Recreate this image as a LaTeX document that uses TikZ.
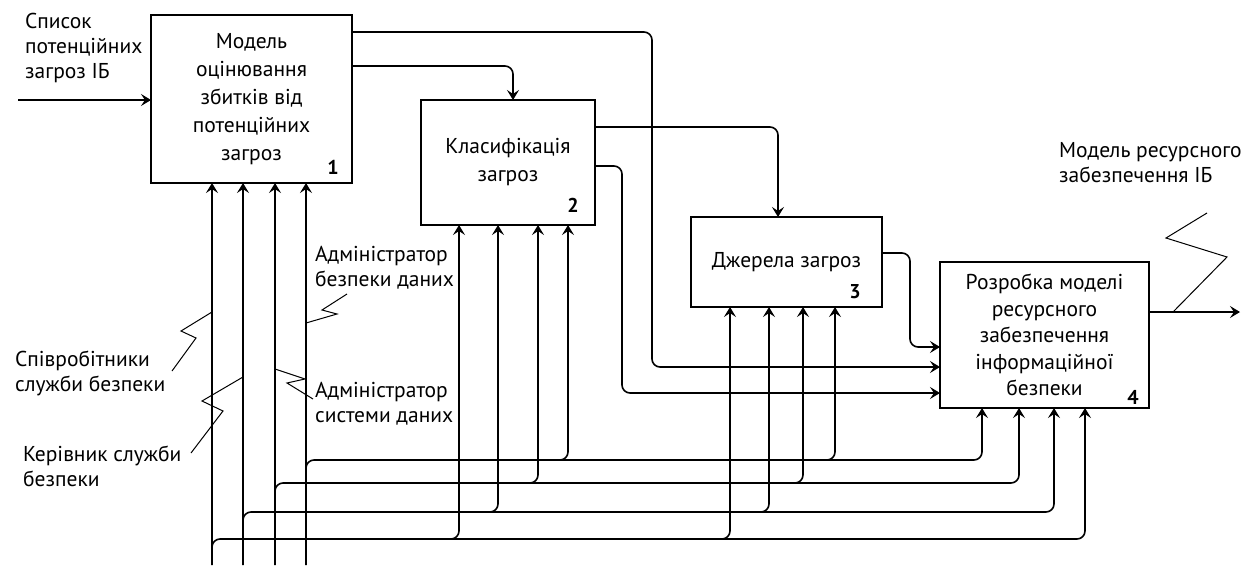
\documentclass[tikz,border=0pt]{standalone}
\usepackage{fontspec}
\setmainfont{PT Sans}
\usetikzlibrary{arrows.meta}

\begin{document}
\begin{tikzpicture}[x=1pt,y=-1pt,
		font=\fontsize{21.5}{25}\selectfont,
		block/.style={draw,line width=2.4pt,align=center,inner sep=0pt,outer sep=0pt},
		num/.style={font=\fontsize{20}{22}\selectfont\bfseries,inner sep=0pt},
		txt/.style={align=left,anchor=west,inner sep=0pt},
		conn/.style={line width=1.6pt,rounded corners=8pt},
		arr/.style={conn,-{Stealth[length=10pt,width=12pt,inset=4pt]}},
		zig/.style={line width=1pt}]
			\useasboundingbox (0,0) rectangle (1256,571);
			% blocks
			\node[block,minimum width=201pt,minimum height=168pt,font=\fontsize{21.5}{28}\selectfont] (b1) at (251.5,99) {Модель\\оцінювання\\збитків від\\потенційних\\загроз};
			\node[block,minimum width=174pt,minimum height=125pt,font=\fontsize{21.5}{28}\selectfont] (b2) at (508,162.5) {Класифікація\\загроз};
			\node[block,minimum width=191pt,minimum height=90pt] (b3) at (786.5,262) {Джерела загроз};
			\node[block,minimum width=209pt,minimum height=146pt,font=\fontsize{21.5}{26.5}\selectfont] (b4) at (1044.5,335) {Розробка моделі\\ресурсного\\забезпечення\\інформаційної\\безпеки};
			\node[num] (n1) at (333,167) {1};
			\node[num] (n2) at (573,205) {2};
			\node[num] (n3) at (855,292) {3};
			\node[num] (n4) at (1133,397) {4};
			% texts
			\node[txt] (tin) at (25,48) {Список\\потенційних\\загроз ІБ};
			\node[txt] (tout) at (1059,163) {Модель ресурсного\\забезпечення ІБ};
			\node[txt] (tm1) at (15,373) {Співробітники\\служби безпеки};
			\node[txt] (tm2) at (23,466) {Керівник служби\\безпеки};
			\node[txt] (tm3) at (315,404) {Адміністратор\\системи даних};
			\node[txt] (tm4) at (315,268) {Адміністратор\\безпеки даних};
			% input and output
			\coordinate (in) at (18,100);
			\coordinate (out) at (1240,312);
			\draw[arr] (in) -- (in -| b1.west);
			\draw[arr] (b4.east |- out) -- (out);
			% flows between blocks
			\draw[arr] (b1.east |- 0,32) -- (652,32) -- (652,367) -- (b4.west |- 0,367);
			\draw[arr] (b1.east |- 0,66) -- (513,66) -- (513,0 |- b2.north);
			\draw[arr] (b2.east |- 0,127) -- (778,127) -- (778,0 |- b3.north);
			\draw[arr] (b2.east |- 0,166) -- (622,166) -- (622,393) -- (b4.west |- 0,393);
			\draw[arr] (b3.east |- 0,253) -- (910,253) -- (910,347) -- (b4.west |- 0,347);
			% mechanisms
			\foreach \s/\y/\xa/\xb/\xc [count=\i] in {212/539/459/730/1085, 243/512/498/769/1054, 275/483/538/803/1019, 306/460/568/835/982}{
				\coordinate (m\i) at (\s,565);
				\draw[arr] (m\i) -- (m\i |- b1.south);
				\draw[arr] (m\i) -- (\s,\y) -- (\xc,\y) -- (\xc,0 |- b4.south);
				\draw[arr] (\xa-30,\y) -- (\xa,\y) -- (\xa,0 |- b2.south);
				\draw[arr] (\xb-30,\y) -- (\xb,\y) -- (\xb,0 |- b3.south);
			}
			% squiggles
			\draw[zig] (212,312) -- (181,331) -- (196,338) -- (172,371);
			\draw[zig] (243,377) -- (202,401) -- (223,411) -- (191,453);
			\draw[zig] (306,323) -- (337,314) -- (322,310) -- (347,294);
			\draw[zig] (275,369) -- (305,379) -- (287,383) -- (313,399);
			\draw[zig] (1173,312) -- (1227,257) -- (1166,238) -- (1207,213);
		\end{tikzpicture}
\end{document}
